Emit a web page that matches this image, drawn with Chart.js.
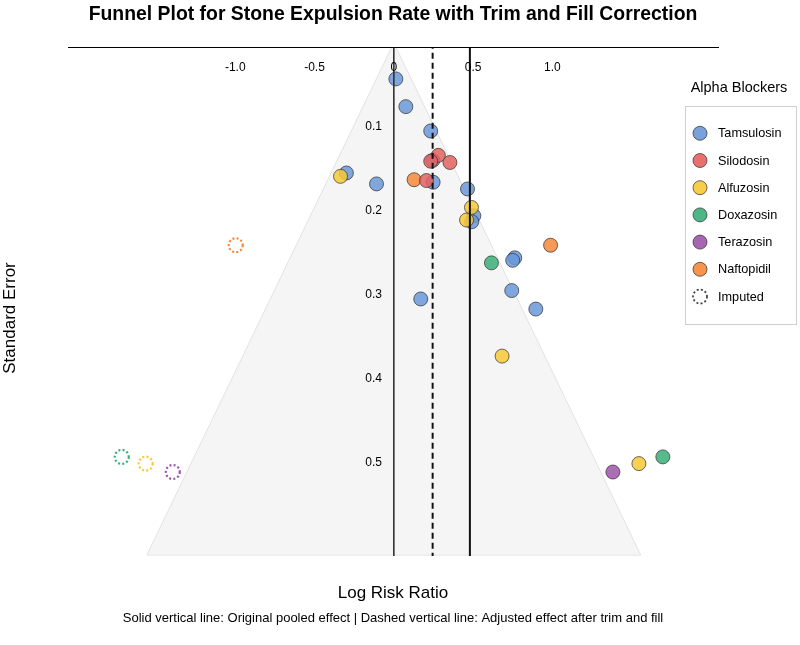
<!DOCTYPE html>
<html>
<head>
<meta charset="utf-8">
<script src="https://cdn.jsdelivr.net/npm/chart.js@4/dist/chart.umd.min.js"></script>
<style>
html,body{margin:0;padding:0;background:#ffffff;}
#wrap{width:800px;height:645px;position:relative;}
</style>
</head>
<body>
<div id="wrap"><canvas id="c" width="800" height="645"></canvas></div>
<script>
// ---------------- DATA ----------------
const drugNames = ['Tamsulosin', 'Silodosin', 'Alfuzosin', 'Doxazosin', 'Terazosin', 'Naftopidil'];
const drugColors = ['#6A98D8', '#E5625F', '#F7C935', '#39AE77', '#9C55AA', '#F6873A'];

// log risk ratio (x) and standard error (y) per study
const tamsulosinLRR = [0.013, 0.076, 0.233, 0.246, -0.299, -0.109, 0.248, 0.465, 0.505, 0.492, 0.763, 0.750, 0.744, 0.896, 0.170];
const tamsulosinSE  = [0.043, 0.076, 0.105, 0.140, 0.155, 0.168, 0.166, 0.174, 0.206, 0.213, 0.256, 0.259, 0.295, 0.317, 0.305];
const silodosinLRR  = [0.281, 0.354, 0.233, 0.206];
const silodosinSE   = [0.134, 0.1425, 0.141, 0.164];
const alfuzosinLRR  = [-0.336, 0.490, 0.459, 0.683, 1.546];
const alfuzosinSE   = [0.159, 0.196, 0.211, 0.373, 0.501];
const doxazosinLRR  = [0.616, 1.697];
const doxazosinSE   = [0.262, 0.493];
const terazosinLRR  = [1.382];
const terazosinSE   = [0.511];
const naftopidilLRR = [0.128, 0.989];
const naftopidilSE  = [0.163, 0.241];

// imputed (trim and fill) studies
const imputedDrug = ['Naftopidil', 'Doxazosin', 'Alfuzosin', 'Terazosin'];
const imputedLRR  = [-0.997, -1.716, -1.565, -1.394];
const imputedSE   = [0.241, 0.493, 0.501, 0.511];

const pooledEffect = 0.48;     // solid line
const adjustedEffect = 0.245;  // dashed line

const funnelApex = [0, 0];
const funnelBottomSE = 0.610;
const funnelHalfWidth = 1.558;

const xTickValues = [-1.0, -0.5, 0, 0.5, 1.0];
const seTickValues = [0.1, 0.2, 0.3, 0.4, 0.5];

const xMin = -2.055, xMax = 2.045;
const seMin = 0.005, seMax = 0.611;

// ---------------- BUILD ----------------
const FONT = '"Liberation Sans", Arial, Helvetica, sans-serif';
Chart.defaults.font.family = FONT;
Chart.defaults.color = '#000';

function hexA(hex, a) {
  const n = parseInt(hex.slice(1), 16);
  return `rgba(${(n >> 16) & 255},${(n >> 8) & 255},${n & 255},${a})`;
}
function pts(xs, ys) { return xs.map((x, i) => ({x: x, y: ys[i]})); }

const seriesX = [tamsulosinLRR, silodosinLRR, alfuzosinLRR, doxazosinLRR, terazosinLRR, naftopidilLRR];
const seriesY = [tamsulosinSE, silodosinSE, alfuzosinSE, doxazosinSE, terazosinSE, naftopidilSE];

const datasets = [];
// funnel region
datasets.push({
  label: 'funnel',
  data: [
    {x: -funnelHalfWidth, y: funnelBottomSE},
    {x: funnelApex[0], y: funnelApex[1]},
    {x: funnelHalfWidth, y: funnelBottomSE}
  ],
  showLine: true,
  fill: {value: funnelBottomSE},
  backgroundColor: '#f5f5f5',
  borderColor: '#e2e2e2',
  borderWidth: 1,
  pointRadius: 0,
  order: 10
});
datasets.push({
  label: 'funnel base',
  data: [{x: -funnelHalfWidth, y: funnelBottomSE}, {x: funnelHalfWidth, y: funnelBottomSE}],
  showLine: true,
  borderColor: '#e6e6e6',
  borderWidth: 1,
  pointRadius: 0,
  order: 9
});
// zero line
datasets.push({
  label: 'zero',
  data: [{x: 0, y: 0}, {x: 0, y: seMax}],
  showLine: true, borderColor: '#333', borderWidth: 1, pointRadius: 0, order: 1
});
// observed studies (Tamsulosin drawn first, underneath)
drugNames.forEach((name, i) => {
  datasets.push({
    label: name,
    data: pts(seriesX[i], seriesY[i]),
    backgroundColor: hexA(drugColors[i], 0.85),
    borderColor: 'rgba(50,50,50,0.9)',
    borderWidth: 0.8,
    pointRadius: 7,
    order: i === 0 ? 6 : 5
  });
});
// imputed studies
imputedDrug.forEach((name, k) => {
  const ci = drugNames.indexOf(name);
  datasets.push({
    label: 'Imputed ' + name,
    imputed: true,
    data: [{x: imputedLRR[k], y: imputedSE[k]}],
    backgroundColor: 'rgba(0,0,0,0)',
    borderColor: drugColors[ci],
    borderWidth: 2.2,
    pointRadius: 7,
    order: 5
  });
});
// pooled lines
datasets.push({
  label: 'pooled',
  data: [{x: pooledEffect, y: 0}, {x: pooledEffect, y: seMax}],
  showLine: true, borderColor: '#111', borderWidth: 2, pointRadius: 0, order: 1
});
datasets.push({
  label: 'adjusted',
  data: [{x: adjustedEffect, y: 0}, {x: adjustedEffect, y: seMax}],
  showLine: true, borderColor: '#111', borderWidth: 2, borderDash: [6, 4], pointRadius: 0, order: 1
});

const dashPlugin = {
  id: 'dashPts',
  beforeDatasetDraw(chart, args) {
    const ds = chart.data.datasets[args.index];
    if (ds.imputed) { chart.ctx.save(); chart.ctx.setLineDash([2, 2.2]); }
  },
  afterDatasetDraw(chart, args) {
    const ds = chart.data.datasets[args.index];
    if (ds.imputed) { chart.ctx.restore(); }
  }
};

const textPlugin = {
  id: 'texts',
  afterDraw(chart) {
    const ctx = chart.ctx;
    ctx.save();
    ctx.fillStyle = '#000';
    ctx.textAlign = 'center';
    ctx.textBaseline = 'middle';
    ctx.font = 'bold 19.4px ' + FONT;
    ctx.fillText('Funnel Plot for Stone Expulsion Rate with Trim and Fill Correction', 393, 15);
    ctx.font = '17px ' + FONT;
    ctx.fillText('Log Risk Ratio', 393, 593);
    ctx.font = '13px ' + FONT;
    ctx.fillText('Solid vertical line: Original pooled effect | Dashed vertical line: Adjusted effect after trim and fill', 393, 618);
    ctx.save();
    ctx.translate(10, 318);
    ctx.rotate(-Math.PI / 2);
    ctx.font = '17px ' + FONT;
    ctx.fillText('Standard Error', 0, 0);
    ctx.restore();

    // legend
    ctx.font = '14.5px ' + FONT;
    ctx.fillText('Alpha Blockers', 739, 88);
    ctx.strokeStyle = '#cfcfcf';
    ctx.lineWidth = 1;
    ctx.strokeRect(685.5, 106.5, 111, 218);
    ctx.textAlign = 'left';
    ctx.font = '12.7px ' + FONT;
    const items = drugNames.concat(['Imputed']);
    items.forEach((name, i) => {
      const y = 133.3 + i * 27.2;
      ctx.beginPath();
      ctx.arc(700, y, 7, 0, Math.PI * 2);
      if (i < drugNames.length) {
        ctx.fillStyle = hexA(drugColors[i], 0.9);
        ctx.fill();
        ctx.strokeStyle = 'rgba(50,50,50,0.9)';
        ctx.lineWidth = 0.8;
        ctx.stroke();
      } else {
        ctx.setLineDash([2, 2.2]);
        ctx.strokeStyle = '#444';
        ctx.lineWidth = 1.8;
        ctx.stroke();
        ctx.setLineDash([]);
      }
      ctx.fillStyle = '#000';
      ctx.fillText(name, 718, y + 0.5);
    });
    ctx.restore();
  }
};

new Chart(document.getElementById('c'), {
  type: 'scatter',
  data: {datasets: datasets},
  options: {
    responsive: false,
    animation: false,
    events: [],
    layout: {padding: {left: 68, right: 82, top: 47, bottom: 89}},
    plugins: {legend: {display: false}, tooltip: {enabled: false}, title: {display: false}},
    scales: {
      x: {
        type: 'linear', min: xMin, max: xMax,
        position: {y: seMin},
        grid: {display: false, drawTicks: false},
        border: {display: true, color: '#000', width: 1, z: 1},
        ticks: {z: 1, padding: 13, color: '#000', font: {size: 12},
          callback: v => (v === 0 ? '0' : v.toFixed(1))},
        afterBuildTicks: s => { s.ticks = xTickValues.map(v => ({value: v})); }
      },
      y: {
        type: 'linear', min: seMin, max: seMax, reverse: true,
        position: {x: -0.075},
        grid: {display: false, drawTicks: false},
        border: {display: false},
        ticks: {z: 1, padding: 0, color: '#000', font: {size: 12},
          callback: v => v.toFixed(1)},
        afterBuildTicks: s => { s.ticks = seTickValues.map(v => ({value: v})); }
      }
    }
  },
  plugins: [dashPlugin, textPlugin]
});
</script>
</body>
</html>
